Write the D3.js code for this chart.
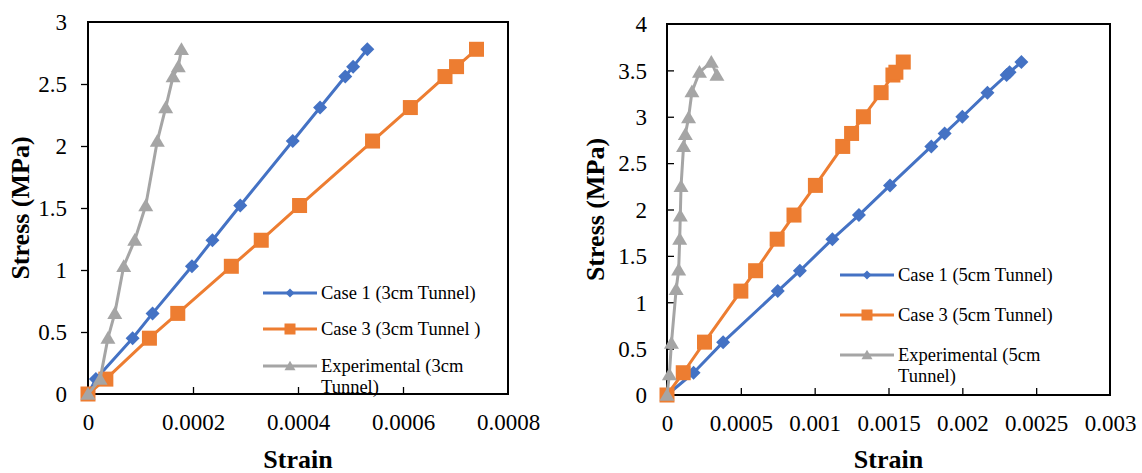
<!DOCTYPE html>
<html>
<head>
<meta charset="utf-8">
<script src="https://cdn.jsdelivr.net/npm/d3@7"></script>
<style>
  html, body { margin: 0; padding: 0; background: #fff; }
  svg { display: block; }
  svg text { font-family: 'Liberation Serif', 'Times New Roman', serif; }
</style>
</head>
<body>
<svg id="chart" width="1142" height="473"></svg>
<script>
// ---------- DATA ----------
// Left chart (3cm tunnel)
const stressL      = [0, 0.12, 0.45, 0.65, 1.03, 1.24, 1.52, 2.04, 2.31, 2.56, 2.64, 2.78];
const case1StrainL = [0, 0.000015, 0.000085, 0.000123, 0.000198, 0.000237, 0.00029, 0.00039, 0.000442, 0.00049, 0.000505, 0.000532];
const case3StrainL = [0, 0.000034, 0.000117, 0.000171, 0.000273, 0.00033, 0.000403, 0.000542, 0.000614, 0.00068, 0.000702, 0.00074];
const expStrainL   = [0, 0.000023, 0.000038, 0.000051, 0.000068, 0.000089, 0.00011, 0.000132, 0.000148, 0.000162, 0.000172, 0.000178];
const xTicksL      = ["0", "0.0002", "0.0004", "0.0006", "0.0008"];
const yTicksL      = ["0", "0.5", "1", "1.5", "2", "2.5", "3"];
const legendL      = ["Case 1 (3cm Tunnel)", "Case 3 (3cm Tunnel )", "Experimental (3cm", "Tunnel)"];

// Right chart (5cm tunnel)
const stressR      = [0, 0.24, 0.57, 1.12, 1.34, 1.68, 1.94, 2.26, 2.68, 2.82, 3.0, 3.26, 3.45, 3.48, 3.59];
const case1StrainR = [0, 0.00018, 0.00038, 0.00075, 0.0009, 0.00112, 0.0013, 0.00151, 0.00179, 0.00188, 0.002, 0.00217, 0.0023, 0.00232, 0.0024];
const case3StrainR = [0, 0.00011, 0.000254, 0.0005, 0.0006, 0.000746, 0.00086, 0.001005, 0.00119, 0.00125, 0.00133, 0.00145, 0.00153, 0.00155, 0.0016];
const expStressR   = [0, 0.22, 0.56, 1.14, 1.35, 1.68, 1.93, 2.25, 2.68, 2.81, 2.99, 3.27, 3.48, 3.59, 3.45];
const expStrainR   = [0, 0.000016, 0.00003, 0.000062, 0.000079, 0.000086, 0.00009, 0.000095, 0.000112, 0.000124, 0.000146, 0.000169, 0.00022, 0.0003, 0.000338];
const xTicksR      = ["0", "0.0005", "0.001", "0.0015", "0.002", "0.0025", "0.003"];
const yTicksR      = ["0", "0.5", "1", "1.5", "2", "2.5", "3", "3.5", "4"];
const legendR      = ["Case 1 (5cm Tunnel)", "Case 3 (5cm Tunnel)", "Experimental (5cm", "Tunnel)"];

const xTitle = "Strain";
const yTitle = "Stress (MPa)";

// ---------- STYLE ----------
const BLUE = "#4472C4", ORANGE = "#ED7D31", GRAY = "#A5A5A5";
const SERIF = "'Liberation Serif', 'Times New Roman', serif";

const svg = d3.select("#chart");
svg.append("rect").attr("width", 1142).attr("height", 473).attr("fill", "#fff");

function marker(g, type, cx, cy, s) {
  if (type === "diamond") {
    g.append("path").attr("d", `M${cx},${cy - s}L${cx + s},${cy}L${cx},${cy + s}L${cx - s},${cy}Z`).attr("fill", BLUE);
  } else if (type === "square") {
    g.append("rect").attr("x", cx - s).attr("y", cy - s).attr("width", 2 * s).attr("height", 2 * s).attr("fill", ORANGE);
  } else {
    g.append("path").attr("d", `M${cx},${cy - s * 0.95}L${cx + s},${cy + s * 0.75}L${cx - s},${cy + s * 0.75}Z`).attr("fill", GRAY);
  }
}

function styleText(sel, size, bold) {
  sel.style("font-family", SERIF).style("font-size", size + "px")
    .style("font-weight", bold ? "bold" : "normal").attr("fill", "#000");
}

function drawChart(cfg) {
  const g = svg.append("g");
  const x = d3.scaleLinear().domain([0, cfg.xMax]).range([cfg.left, cfg.right]);
  const y = d3.scaleLinear().domain([0, cfg.yMax]).range([cfg.bottom, cfg.top]);

  // x axis (ticks inside)
  const xVals = cfg.xLabels.map(Number);
  const xAxis = g.append("g").attr("transform", `translate(0,${cfg.bottom})`)
    .call(d3.axisBottom(x).tickValues(xVals).tickSize(-7).tickPadding(0)
      .tickFormat((d, i) => cfg.xLabels[i]));
  xAxis.attr("font-family", null).attr("font-size", null);
  xAxis.select(".domain").remove();
  xAxis.selectAll(".tick line").attr("stroke", "#000").attr("stroke-width", 1.3);
  styleText(xAxis.selectAll(".tick text").attr("y", 36).attr("dy", 0), 23, false);
  xAxis.selectAll(".tick").filter((d, i) => i === 0 || i === xVals.length - 1).select("line").remove();

  // y axis
  const yVals = cfg.yLabels.map(Number);
  const yAxis = g.append("g").attr("transform", `translate(${cfg.left},0)`)
    .call(d3.axisLeft(y).tickValues(yVals).tickSize(cfg.yTickInside ? -7 : 7).tickPadding(0)
      .tickFormat((d, i) => cfg.yLabels[i]));
  yAxis.attr("font-family", null).attr("font-size", null);
  yAxis.select(".domain").remove();
  yAxis.selectAll(".tick line").attr("stroke", "#000").attr("stroke-width", 1.3);
  yAxis.selectAll(".tick").filter((d, i) => i === 0 || i === yVals.length - 1).select("line").remove();
  styleText(yAxis.selectAll(".tick text").attr("x", -(cfg.left - cfg.yLabelRight)).attr("dy", "0.34em")
    .attr("text-anchor", "end"), 23, false);

  // frame
  g.append("rect").attr("x", cfg.left).attr("y", cfg.top)
    .attr("width", cfg.right - cfg.left).attr("height", cfg.bottom - cfg.top)
    .attr("fill", "none").attr("stroke", "#000").attr("stroke-width", 2);

  // series
  const line = d3.line().x(d => x(d[0])).y(d => y(d[1]));
  cfg.series.forEach(s => {
    const pts = s.strain.map((v, i) => [v, s.stress[i]]);
    g.append("path").datum(pts).attr("d", line).attr("fill", "none")
      .attr("stroke", s.color).attr("stroke-width", 3).attr("stroke-linejoin", "round");
    const mg = g.append("g");
    pts.forEach(p => marker(mg, s.type, x(p[0]), y(p[1]), s.size));
  });

  // legend
  const lg = g.append("g");
  cfg.series.forEach((s, i) => {
    const ly = cfg.legendY[i];
    lg.append("line").attr("x1", cfg.legendX).attr("x2", cfg.legendX + 54)
      .attr("y1", ly).attr("y2", ly).attr("stroke", s.color).attr("stroke-width", 3);
    marker(lg, s.type, cfg.legendX + 27, ly, s.type === "diamond" ? 4.5 : 5.5);
    styleText(lg.append("text").attr("x", cfg.legendX + 58).attr("y", ly).attr("dy", "0.34em")
      .text(cfg.legend[i]), 18.5, false);
  });
  styleText(lg.append("text").attr("x", cfg.legendX + 58).attr("y", cfg.legendY[3]).attr("dy", "0.34em")
    .text(cfg.legend[3]), 18.5, false);

  // titles
  styleText(g.append("text").attr("x", (cfg.left + cfg.right) / 2).attr("y", 468)
    .attr("text-anchor", "middle").text(xTitle), 26, true);
  styleText(g.append("text").attr("transform", `translate(${cfg.yTitleX},${(cfg.top + cfg.bottom) / 2}) rotate(-90)`)
    .attr("text-anchor", "middle").attr("dy", "0.34em").text(yTitle), 26, true);
}

drawChart({
  left: 88, right: 508, top: 22, bottom: 394, xMax: 0.0008, yMax: 3,
  xLabels: xTicksL, yLabels: yTicksL, yLabelRight: 67, yTickInside: false, yTitleX: 20,
  legend: legendL, legendX: 263, legendY: [293, 329, 366, 387],
  series: [
    { strain: case1StrainL, stress: stressL, color: BLUE, type: "diamond", size: 7 },
    { strain: case3StrainL, stress: stressL, color: ORANGE, type: "square", size: 7.5 },
    { strain: expStrainL, stress: stressL, color: GRAY, type: "triangle", size: 7.5 }
  ]
});

drawChart({
  left: 667, right: 1110, top: 24, bottom: 395, xMax: 0.003, yMax: 4,
  xLabels: xTicksR, yLabels: yTicksR, yLabelRight: 647, yTickInside: true, yTitleX: 595,
  legend: legendR, legendX: 840, legendY: [275, 315, 355, 376],
  series: [
    { strain: case1StrainR, stress: stressR, color: BLUE, type: "diamond", size: 7 },
    { strain: case3StrainR, stress: stressR, color: ORANGE, type: "square", size: 7.5 },
    { strain: expStrainR, stress: expStressR, color: GRAY, type: "triangle", size: 7.5 }
  ]
});
</script>
</body>
</html>
